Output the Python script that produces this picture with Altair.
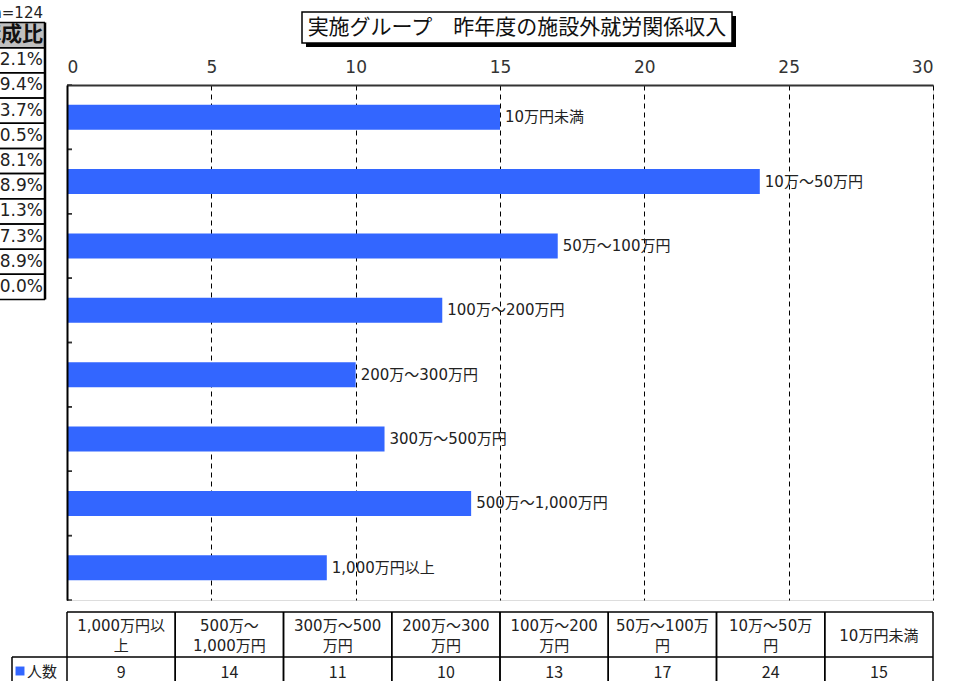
import altair as alt
import pandas as pd

FONT = "Noto Sans CJK JP"
MIX = "DejaVu Sans, Noto Sans CJK JP"
BLUE = "#3366FF"

# ---------------- data ----------------
categories = ["10万円未満", "10万～50万円", "50万～100万円", "100万～200万円",
              "200万～300万円", "300万～500万円", "500万～1,000万円", "1,000万円以上"]
counts = [15, 24, 17, 13, 10, 11, 14, 9]

table_headers = ["1,000万円以\n上", "500万～\n1,000万円", "300万～500\n万円", "200万～300\n万円",
                 "100万～200\n万円", "50万～100万\n円", "10万～50万\n円", "10万円未満"]
series_name = "人数"

pct_header = "構成比"
pct_values = ["12.1%", "19.4%", "13.7%", "10.5%", "8.1%", "8.9%", "11.3%", "7.3%", "8.9%", "100.0%"]
n_label = "n=124"

title_text = "実施グループ　昨年度の施設外就労関係収入"
x_ticks = [0, 5, 10, 15, 20, 25, 30]

W, H = 866, 515

bars_df = pd.DataFrame({"cat": categories, "n": counts})
table_order = categories[::-1]
table_df = pd.DataFrame({"col": table_order, "head": table_headers, "n": counts[::-1]})
table_df["two"] = table_df["head"].str.contains("\n")
row_ids = [f"r{i}" for i in range(len(pct_values) + 1)]
rows_df = pd.DataFrame({"row": row_ids, "label": [pct_header] + pct_values})
one = pd.DataFrame({"k": [0]})

# ---------------- main bar chart ----------------
xs = alt.Scale(domain=[0, 30], nice=False, zero=True)
xax = alt.Axis(orient="top", values=x_ticks, grid=True, gridDash=[5, 4], gridColor="black",
               gridWidth=1, gridOpacity=1, domain=True, domainColor="#333", domainWidth=2,
               ticks=False, labelFont=MIX, labelFontSize=17, labelColor="#333",
               labelPadding=9, title=None)
ys = alt.Scale(domain=categories, paddingInner=0, paddingOuter=0)
yax = alt.Axis(orient="left", labels=False, ticks=False, grid=False, domainColor="black",
               domainWidth=2, title=None, zindex=1)

bars = alt.Chart(bars_df).mark_bar(size=25, color=BLUE).encode(
    x=alt.X("n:Q", scale=xs, axis=xax),
    y=alt.Y("cat:N", scale=ys, axis=yax),
)
labels = alt.Chart(bars_df).mark_text(align="left", baseline="middle", dx=5, font=MIX,
                                      fontSize=15, color="#222").encode(
    x="n:Q", y="cat:N", text="cat:N")
ticks0 = alt.Chart(bars_df).mark_rule(color="#333", strokeWidth=1.5).encode(
    x=alt.value(0), x2=alt.value(5), y=alt.Y("cat:N", bandPosition=0))
ticks1 = alt.Chart(bars_df).mark_rule(color="#333", strokeWidth=1.5).encode(
    x=alt.value(0), x2=alt.value(5), y=alt.Y("cat:N", bandPosition=1))
main = alt.layer(bars, labels, ticks0, ticks1)

# ---------------- bottom data table ----------------
tscale = alt.Scale(type="band", domain=table_order, paddingInner=0, paddingOuter=0)
head2 = alt.Chart(table_df[table_df["two"]]).mark_text(
    font=MIX, fontSize=15, lineBreak="\n", lineHeight=20,
    baseline="middle", align="center", color="#222").encode(
    x=alt.X("col:N", scale=tscale, axis=None), y=alt.value(541), text="head:N")
head1 = alt.Chart(table_df[~table_df["two"]]).mark_text(
    font=MIX, fontSize=15, baseline="middle", align="center", color="#222").encode(
    x=alt.X("col:N", scale=tscale, axis=None), y=alt.value(551), text="head:N")
val_text = alt.Chart(table_df).mark_text(font=FONT, fontSize=16, baseline="middle",
                                         align="center", color="#222").encode(
    x=alt.X("col:N", scale=tscale, axis=None), y=alt.value(588), text="n:Q")
col_l = alt.Chart(table_df).mark_rule(color="black", strokeWidth=1.5).encode(
    x=alt.X("col:N", scale=tscale, axis=None, bandPosition=0), y=alt.value(527), y2=alt.value(600))
col_r = alt.Chart(table_df).mark_rule(color="black", strokeWidth=1.5).encode(
    x=alt.X("col:N", scale=tscale, axis=None, bandPosition=1), y=alt.value(527), y2=alt.value(600))
h1 = alt.Chart(one).mark_rule(color="black", strokeWidth=1.5).encode(
    x=alt.value(0), x2=alt.value(W), y=alt.value(527))
h2 = alt.Chart(one).mark_rule(color="black", strokeWidth=1.5).encode(
    x=alt.value(-55), x2=alt.value(W), y=alt.value(572))
vlab = alt.Chart(one).mark_rule(color="black", strokeWidth=1.5).encode(
    x=alt.value(-55), y=alt.value(572), y2=alt.value(600))
key_sq = alt.Chart(one).mark_square(size=80, color=BLUE, opacity=1).encode(
    x=alt.value(-47), y=alt.value(586))
key_txt = alt.Chart(one).mark_text(font=FONT, fontSize=15, align="left", baseline="middle",
                                   color="#222").encode(
    x=alt.value(-40), y=alt.value(587), text=alt.value(series_name))
table = alt.layer(col_l, col_r, h1, h2, vlab, head2, head1, val_text, key_sq, key_txt)

# ---------------- left (cut-off) share table ----------------
rscale = alt.Scale(type="band", domain=row_ids, range=[-62.5, 214.5], paddingInner=0, paddingOuter=0)
hdr_fill = alt.Chart(rows_df.iloc[:1]).mark_rect(color="#C0C0C0").encode(
    x=alt.value(-90), x2=alt.value(-22), y=alt.Y("row:N", scale=rscale, axis=None))
row_l0 = alt.Chart(rows_df).mark_rule(color="black", strokeWidth=1.5).encode(
    x=alt.value(-90), x2=alt.value(-22), y=alt.Y("row:N", scale=rscale, axis=None, bandPosition=0))
row_l1 = alt.Chart(rows_df).mark_rule(color="black", strokeWidth=1.5).encode(
    x=alt.value(-90), x2=alt.value(-22), y=alt.Y("row:N", scale=rscale, axis=None, bandPosition=1))
hdr_txt = alt.Chart(rows_df.iloc[:1]).mark_text(font=FONT, fontSize=21, fontWeight="bold",
                                                align="right", baseline="middle", color="#111").encode(
    x=alt.value(-24), y=alt.Y("row:N", scale=rscale, axis=None), text="label:N")
pct_txt = alt.Chart(rows_df.iloc[1:]).mark_text(font="DejaVu Sans", fontSize=17, align="right",
                                                baseline="middle", color="#222").encode(
    x=alt.value(-24), y=alt.Y("row:N", scale=rscale, axis=None), text="label:N")
vborder = alt.Chart(one).mark_rule(color="black", strokeWidth=2.5).encode(
    x=alt.value(-22), y=alt.value(-62.5), y2=alt.value(214.5))
n_txt = alt.Chart(one).mark_text(font="DejaVu Sans", fontSize=15, align="right", baseline="middle",
                                 color="#222").encode(
    x=alt.value(-24), y=alt.value(-72), text=alt.value(n_label))
left = alt.layer(hdr_fill, row_l0, row_l1, vborder, hdr_txt, pct_txt, n_txt)

# ---------------- title box ----------------
shadow = alt.Chart(one).mark_rect(color="black").encode(
    x=alt.value(239), x2=alt.value(669), y=alt.value(-69), y2=alt.value(-38))
box = alt.Chart(one).mark_rect(fill="white", stroke="black", strokeWidth=1.5).encode(
    x=alt.value(235), x2=alt.value(665), y=alt.value(-73), y2=alt.value(-42))
ttxt = alt.Chart(one).mark_text(font=FONT, fontSize=21, align="center", baseline="middle",
                                color="#111").encode(
    x=alt.value(450), y=alt.value(-57), text=alt.value(title_text))
title = alt.layer(shadow, box, ttxt)

chart = alt.layer(main, table, left, title).resolve_scale(
    x="independent", y="independent"
).properties(
    width=W, height=H,
    padding={"left": 67, "top": 85, "right": 26, "bottom": 81},
    autosize=alt.AutoSizeParams(type="none"),
    background="white",
).configure_view(stroke=None).configure(font=FONT)

chart.save("out.html", embed_options={"renderer": "svg", "actions": False})
